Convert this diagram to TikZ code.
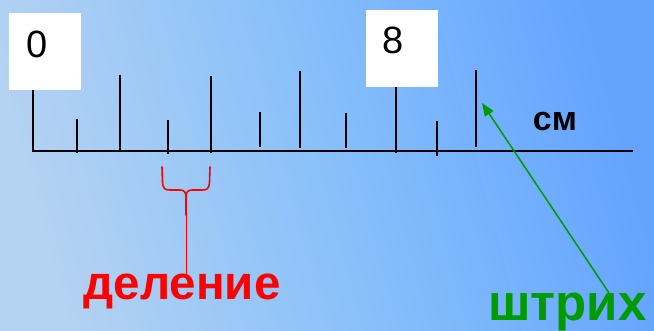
\documentclass[tikz,border=0pt]{standalone}
\usepackage{fontspec}
\setmainfont{Liberation Sans}
\usetikzlibrary{arrows.meta}
\definecolor{bgA}{RGB}{180,210,242}
\definecolor{bgM}{RGB}{136,192,250}
\definecolor{bgB}{RGB}{100,164,255}
\definecolor{grn}{RGB}{0,155,0}
\definecolor{rd}{RGB}{255,0,0}
\tikzset{
  numbox/.style={draw=none, fill=white, minimum width=72pt, minimum height=77pt, inner sep=0pt},
  numtext/.style={font=\fontsize{38}{38}\selectfont, inner sep=0pt},
  tick/.style={line width=2.4pt, black},
  scaleline/.style={line width=2.4pt, black},
  bigred/.style={font=\fontsize{47.5}{47.5}\selectfont\bfseries, text=rd, inner sep=0pt, anchor=base},
  biggreen/.style={font=\fontsize{51}{51}\selectfont\bfseries, text=grn, inner sep=0pt, anchor=base},
  unit/.style={font=\fontsize{34}{34}\selectfont\bfseries, inner sep=0pt, anchor=base},
  brace/.style={rd, line width=1.6pt, line cap=round, line join=round},
  greenarrow/.style={grn, line width=1.5pt, -{Triangle[length=13pt,width=10pt]}}
}
\begin{document}
\begin{tikzpicture}[x=1pt,y=-1pt]
  \useasboundingbox (0,0) rectangle (654,331);
  \shade[left color=bgA, right color=bgB, middle color=bgM, shading angle=105] (0,0) rectangle (654,331);

  % scale base line
  \draw[scaleline] (33,151) -- (633,151);
  % ticks
  \draw[tick] (33,85) -- (33,152);
  \draw[tick] (76.7,119) -- (76.7,153);
  \draw[tick] (120,75) -- (120,151);
  \draw[tick] (168,120) -- (168,154);
  \draw[tick] (211,76) -- (211,153);
  \draw[tick] (260,112) -- (260,147);
  \draw[tick] (300,71) -- (300,148);
  \draw[tick] (346,113) -- (346,148);
  \draw[tick] (396,80) -- (396,153);
  \draw[tick] (437,121) -- (437,156);
  \draw[tick] (476,70) -- (476,147);

  % number boxes
  \node[numbox] (box0) at (45,51.5) {};
  \node[numtext] (n0) at (37.5,44) {0};
  \node[numbox] (box8) at (402,48.5) {};
  \node[numtext] (n8) at (393.5,40) {8};

  % unit
  \node[unit] (cm) at (555,131) {см};

  % labels
  \node[bigred] (del) at (182,300) {деление};
  \node[biggreen] (shtr) at (567.5,321) {штрих};

  % brace
  \coordinate (bl) at (162,167);
  \coordinate (br) at (210,167);
  \coordinate (bm) at (186,197);
  \coordinate (bs) at (186,276);
  \draw[brace] (bl) -- (162.5,182) .. controls (163,189) and (165,190) .. (170,190)
     -- (180,190) .. controls (184,190) and (186,192) .. (bm);
  \draw[brace] (br) -- (209.5,182) .. controls (209,189) and (207,190) .. (202,190)
     -- (192,190) .. controls (188,190) and (186,192) .. (bm);
  \draw[brace] (bm) -- (186,215);
  \draw[rd, line width=0.9pt] (186,214) -- (bs);

  % arrow
  \coordinate (tip) at (482,103);
  \coordinate (astart) at (609,293);
  \draw[greenarrow] (astart) -- (tip);
\end{tikzpicture}
\end{document}
